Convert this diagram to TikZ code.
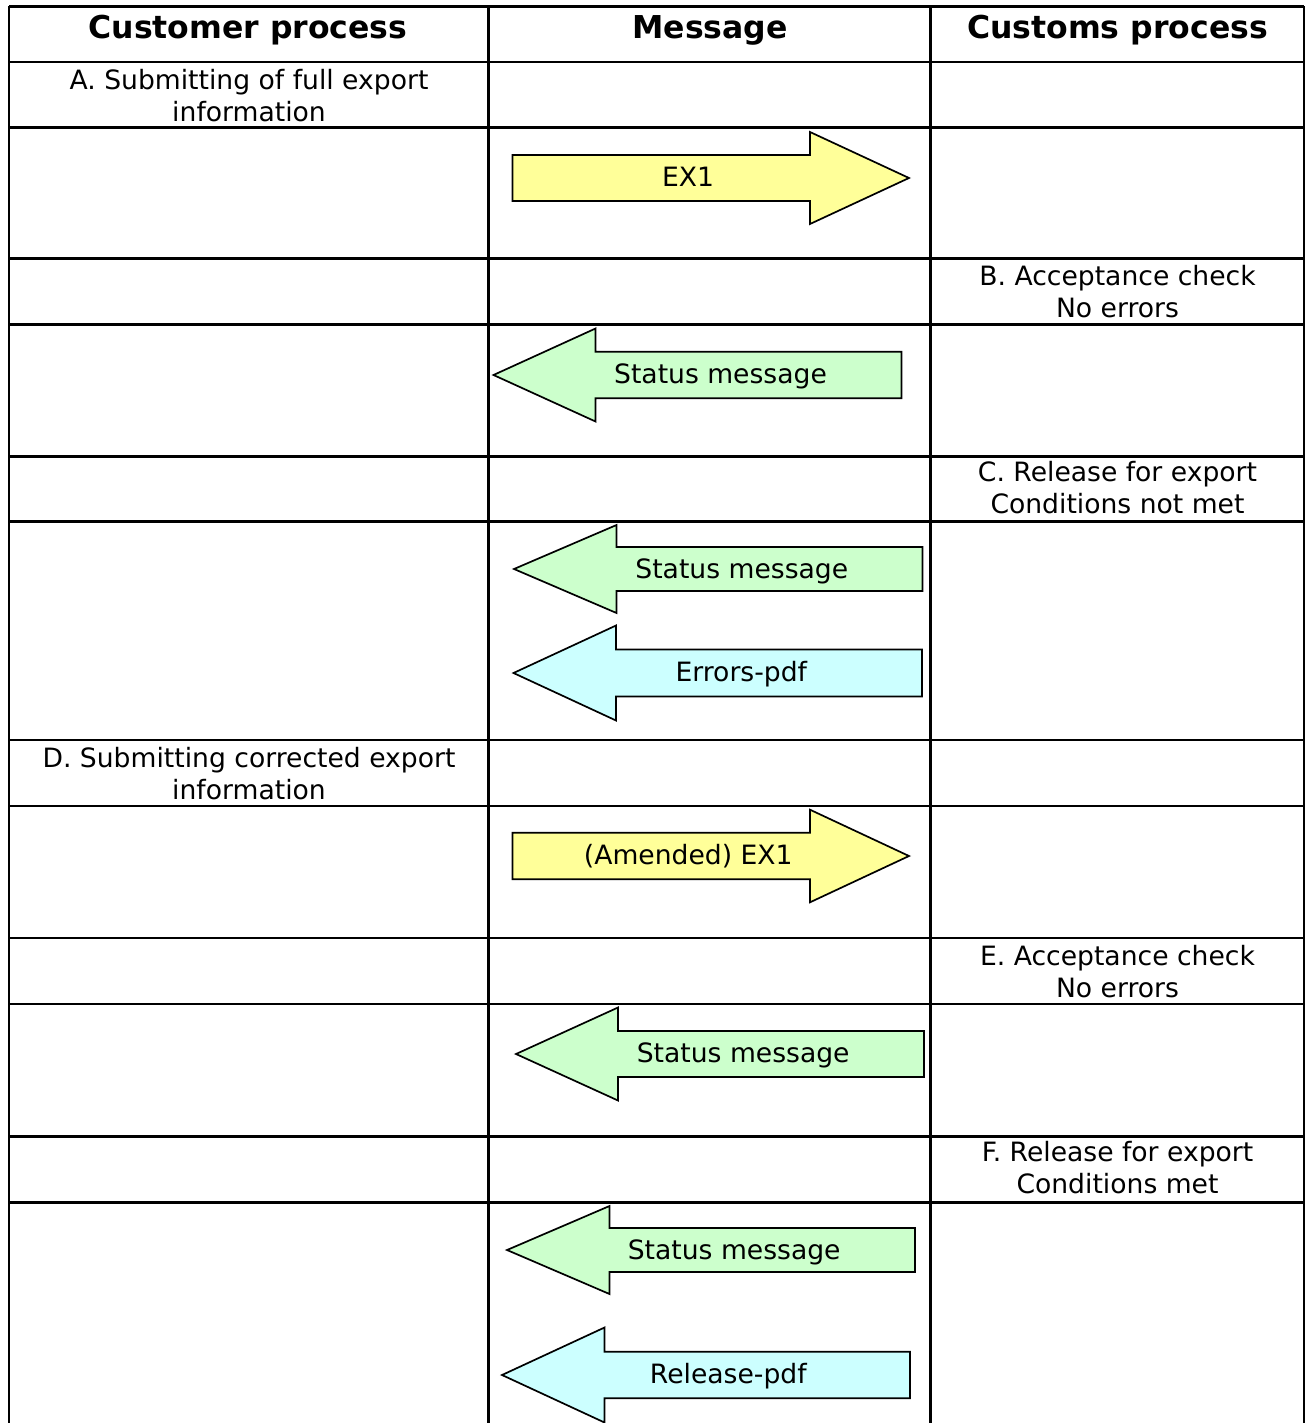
\documentclass[tikz,border=0pt]{standalone}
\usepackage{fontspec}
\setmainfont{DejaVu Sans}
\definecolor{ylw}{HTML}{FFFF99}
\definecolor{grn}{HTML}{CCFFCC}
\definecolor{cyn}{HTML}{CCFFFF}
\tikzset{
  grid/.style={line width=2.7pt, black},
  arrowshape/.style={draw=black, line width=1.7pt, line join=miter},
  lbl/.style={inner sep=0pt, anchor=base, font=\fontsize{26.6}{32}\selectfont, align=center},
  hdr/.style={inner sep=0pt, anchor=base, font=\fontsize{31.5}{36}\selectfont\bfseries},
}
% #1 tip x, #2 head base x, #3 end x, #4 centre y, #5 body half, #6 head half, #7 colour
\newcommand{\LeftBlockArrow}[7]{%
  \draw[arrowshape, fill=#7] (#1,#4) -- (#2,#4-#6) -- (#2,#4-#5) -- (#3,#4-#5)
    -- (#3,#4+#5) -- (#2,#4+#5) -- (#2,#4+#6) -- cycle;}
% #1 start x, #2 head base x, #3 tip x, #4 centre y, #5 body half, #6 head half, #7 colour
\newcommand{\RightBlockArrow}[7]{%
  \draw[arrowshape, fill=#7] (#3,#4) -- (#2,#4-#6) -- (#2,#4-#5) -- (#1,#4-#5)
    -- (#1,#4+#5) -- (#2,#4+#5) -- (#2,#4+#6) -- cycle;}
\begin{document}
\begin{tikzpicture}[x=1pt,y=-1pt]
\useasboundingbox (0,0) rectangle (1305,1423);
\clip (0,0) rectangle (1305,1423);
\fill[white] (0,0) rectangle (1305,1423);
% grid
\foreach \yy in {6.5,62,127.5,258.5,324.5,456.5,521.5,740,806,938,1004,1136.5,1202.5}
  \draw[grid] (9,\yy) -- (1304,\yy);
\foreach \xx in {9,488.5,930.5,1304}
  \draw[grid] (\xx,6.5) -- (\xx,1430);
% headers
\node[hdr] (h1) at (248,39) {Customer process};
\node[hdr] (h2) at (710,39) {Message};
\node[hdr] (h3) at (1117.5,39) {Customs process};
% process steps (anchor = baseline of the last line)
\node[lbl] (A) at (249,121.5) {A. Submitting of full export\\information};
\node[lbl] (B) at (1117.5,317.5) {B. Acceptance check\\No errors};
\node[lbl] (C) at (1117.5,513.5) {C. Release for export\\Conditions not met};
\node[lbl] (D) at (249,799.5) {D. Submitting corrected export\\information};
\node[lbl] (E) at (1117.5,997) {E. Acceptance check\\No errors};
\node[lbl] (F) at (1117.5,1193.5) {F. Release for export\\Conditions met};
% message arrows
\RightBlockArrow{512.5}{810}{909}{178}{23}{46}{ylw}
\node[lbl] (m1) at (688,186.5) {EX1};
\LeftBlockArrow{493.5}{595.5}{901.5}{375}{23.3}{46.5}{grn}
\node[lbl] (m2) at (720.5,383.5) {Status message};
\LeftBlockArrow{514}{616.5}{922.5}{569}{22}{44}{grn}
\node[lbl] (m3) at (741.8,578) {Status message};
\LeftBlockArrow{513.5}{616}{922}{673}{23.5}{47.5}{cyn}
\node[lbl] (m4) at (741.3,681) {Errors-pdf};
\RightBlockArrow{512.5}{810}{909}{856}{23.3}{46.3}{ylw}
\node[lbl] (m5) at (688.3,864.3) {(Amended) EX1};
\LeftBlockArrow{516}{618}{924}{1054}{23}{46.5}{grn}
\node[lbl] (m6) at (743.2,1062.3) {Status message};
\LeftBlockArrow{507}{609.5}{915}{1250}{22}{44}{grn}
\node[lbl] (m7) at (734.2,1259) {Status message};
\LeftBlockArrow{502}{604.5}{910}{1375}{23.3}{47.5}{cyn}
\node[lbl] (m8) at (728.3,1383) {Release-pdf};
\end{tikzpicture}
\end{document}
